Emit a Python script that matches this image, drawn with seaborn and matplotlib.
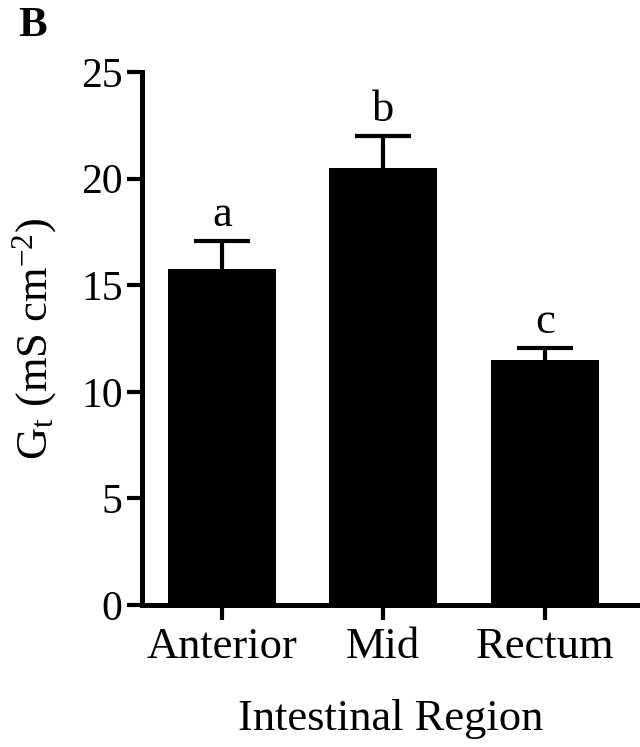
import matplotlib
matplotlib.use("Agg")
import matplotlib.pyplot as plt
import seaborn as sns
import pandas as pd

regions = ["Anterior", "Mid", "Rectum"]
gt_values = [15.76, 20.51, 11.49]
gt_sem = [1.33, 1.49, 0.55]
sig_letters = ["a", "b", "c"]
y_ticks = [0, 5, 10, 15, 20, 25]

sns.set_theme(style="ticks")
plt.rcParams['font.family'] = ['Liberation Serif', 'DejaVu Serif']
plt.rcParams['mathtext.fontset'] = 'custom'
plt.rcParams['mathtext.rm'] = 'Liberation Serif'
plt.rcParams['mathtext.it'] = 'Liberation Serif:italic'
plt.rcParams['axes.unicode_minus'] = False

df = pd.DataFrame({"region": regions, "gt": gt_values})

fig = plt.figure(figsize=(6.4, 7.47), dpi=100)
ax = fig.add_axes([0.222, 0.19, 0.778, 0.7136])

sns.barplot(data=df, x="region", y="gt", color="black", width=0.67,
            errorbar=None, saturation=1, ax=ax, zorder=2)
for p in ax.patches:
    p.set_linewidth(0)

_, caps, _ = ax.errorbar(range(len(regions)), gt_values,
                         yerr=[[0] * len(regions), gt_sem], fmt="none",
                         ecolor="black", elinewidth=3, capsize=20.5,
                         capthick=3, zorder=1)
caps[0].set_visible(False)

for i, (v, e, s) in enumerate(zip(gt_values, gt_sem, sig_letters)):
    ax.text(i, v + e + 0.7, s, ha="center", va="baseline", fontsize=32,
            color="black")

ax.set_xlim(-0.494, 2.59)
ax.set_ylim(0, 25)
ax.set_yticks(y_ticks)
ax.set_yticklabels([str(t) for t in y_ticks])

sns.despine(ax=ax)
for side in ["left", "bottom"]:
    ax.spines[side].set_linewidth(3.6)
    ax.spines[side].set_color("black")
ax.tick_params(axis="both", which="major", length=11, width=3,
               color="black", labelcolor="black", pad=3)
ax.tick_params(axis="x", pad=5, labelsize=32)
ax.tick_params(axis="y", labelsize=30)

ax.set_xlabel("Intestinal Region", fontsize=32, labelpad=23, color="black")
ax.set_ylabel(r"G$_\mathregular{t}$ (mS cm$^\mathregular{-2}$)", fontsize=32,
              labelpad=16, color="black")

fig.text(0.028, 0.99, "B", fontsize=31, fontweight="bold", va="top",
         ha="left", color="black")

fig.savefig("out.png", dpi=100)
